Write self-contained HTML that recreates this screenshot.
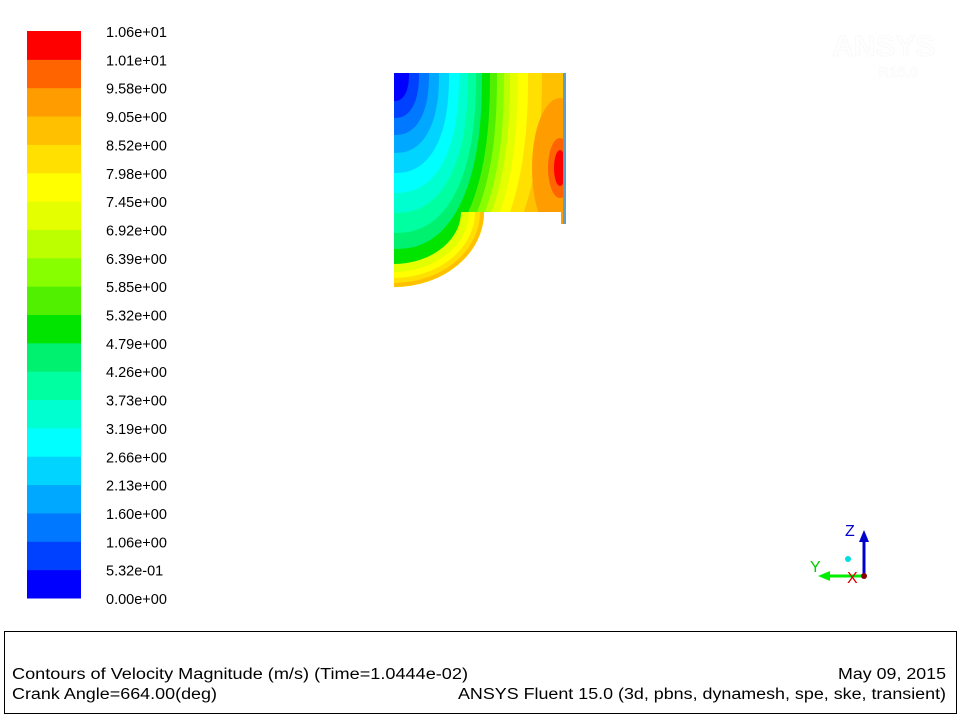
<!DOCTYPE html>
<html><head><meta charset="utf-8"><style>
html,body{margin:0;padding:0;background:#fff;}
svg{display:block;font-family:"Liberation Sans",Arial,sans-serif;}
</style></head><body>
<svg id="chart" width="960" height="720" viewBox="0 0 960 720">
  <text x="832" y="56" font-size="30" font-weight="bold" fill="#fefefe" stroke="#f6f6f6" stroke-width="0.5">ANSYS</text>
  <text x="878" y="77" font-size="15" font-weight="bold" fill="#fefefe" stroke="#f6f6f6" stroke-width="0.4">R15.0</text>
  <g id="colorbar"></g>
  <defs>
    <clipPath id="domainClip">
      <path d="M394,73 L566,73 L566,224 L561,224 L561,212 L484,212 A90,75 0 0 1 394,287 Z"/>
    </clipPath>
  </defs>
  <g id="contours" clip-path="url(#domainClip)"></g>
  <g>
    <line x1="864" y1="576" x2="864" y2="540" stroke="#0000cc" stroke-width="3"/>
    <polygon points="859,542 869,542 864,530" fill="#0000cc"/>
    <line x1="864" y1="576" x2="828" y2="576" stroke="#00ee00" stroke-width="3"/>
    <polygon points="830,571 830,581 818,576" fill="#00ee00"/>
    <circle cx="864" cy="576" r="3" fill="#880000"/>
    <circle cx="848" cy="559" r="3" fill="#00dddd"/>
    <text x="845" y="536" font-size="16" fill="#0000cc">Z</text>
    <text x="810" y="572" font-size="16" fill="#00cc00">Y</text>
    <text x="847" y="583" font-size="16" fill="#dd0000">X</text>
  </g>
  <rect x="4.5" y="631.5" width="952" height="82" fill="none" stroke="#000" stroke-width="1"/>
  <text x="12" y="679" font-size="15.5" textLength="456" lengthAdjust="spacingAndGlyphs">Contours of Velocity Magnitude (m/s)  (Time=1.0444e-02)</text>
  <text x="12" y="699" font-size="15.5" textLength="205" lengthAdjust="spacingAndGlyphs">Crank Angle=664.00(deg)</text>
  <text x="946" y="679" font-size="15.5" text-anchor="end" textLength="108" lengthAdjust="spacingAndGlyphs">May 09, 2015</text>
  <text x="946" y="699" font-size="15.5" text-anchor="end" textLength="488" lengthAdjust="spacingAndGlyphs">ANSYS Fluent 15.0 (3d, pbns, dynamesh, spe, ske, transient)</text>
</svg>
<script>
const levelLabels = ["0.00e+00","5.32e-01","1.06e+00","1.60e+00","2.13e+00","2.66e+00","3.19e+00","3.73e+00","4.26e+00","4.79e+00","5.32e+00","5.85e+00","6.39e+00","6.92e+00","7.45e+00","7.98e+00","8.52e+00","9.05e+00","9.58e+00","1.01e+01","1.06e+01"];
const bandColors = ["#0000ff","#0040ff","#0078ff","#00a8ff","#00d4ff","#00ffff","#00ffd0","#00ffa0","#00f070","#00e400","#50f000","#88ff00","#bbff00","#e4ff00","#ffff00","#ffe000","#ffc000","#ff9c00","#ff6400","#ff0000"];
// main contours around top-left corner: band index, rx, ry
const mainBands = [15,14,13,12,11,10,9,8,7,6,5,4,3,2,1,0];
const mainRx = [148,134,124,116,110,103,96,88,82,74,65,55,45,35,25,15];
const mainRy = [240,232,225,218,211,203,192,176,160,140,120,100,80,62,45,28];
// bands hugging the lower curved wall: band index, stroke width (half visible)
const arcBands = [13,14,15,16];
const arcWidths = [46,30,18,8];
// hot spot near right wall
const hotBands = [17,18,19];
const hotRx = [28,12,6];
const hotRy = [70,30,18];

const NS="http://www.w3.org/2000/svg";
const cb=document.getElementById('colorbar');
const barTop=31, barBot=598, nB=bandColors.length;
const bh=(barBot-barTop)/nB;
function yBand(i){return barBot-(i+1)*bh;}
bandColors.forEach((c,i)=>{
  const r=document.createElementNS(NS,'rect');
  r.setAttribute('x',27);r.setAttribute('y',yBand(i));r.setAttribute('width',54);r.setAttribute('height',bh+0.5);r.setAttribute('fill',c);
  
  
  cb.appendChild(r);
});
levelLabels.forEach((t,i)=>{
  const tx=document.createElementNS(NS,'text');
  tx.setAttribute('x',106);tx.setAttribute('y',barBot-i*bh+6);tx.setAttribute('font-size',14.5);tx.textContent=t;
  
  
  cb.appendChild(tx);
});
function superQuad(cx,cy,rx,ry,n){
  let d='M'+cx+','+cy;
  for(let k=0;k<=40;k++){
    const th=k/40*Math.PI/2;
    const x=cx+rx*Math.pow(Math.cos(th),2/n);
    const y=cy+ry*Math.pow(Math.sin(th),2/n);
    d+=' L'+x.toFixed(1)+','+y.toFixed(1);
  }
  return d+' Z';
}
const g=document.getElementById('contours');
const bg=document.createElementNS(NS,'rect');
bg.setAttribute('x',390);bg.setAttribute('y',70);bg.setAttribute('width',180);bg.setAttribute('height',220);bg.setAttribute('fill',bandColors[16]);


g.appendChild(bg);
mainBands.forEach((b,i)=>{
  const p=document.createElementNS(NS,'path');
  p.setAttribute('d',superQuad(394,73,mainRx[i],mainRy[i],2.4));
  p.setAttribute('fill',bandColors[b]);
  
  
  g.appendChild(p);
});
arcBands.forEach((b,i)=>{
  const p=document.createElementNS(NS,'path');
  p.setAttribute('d','M484,212 A90,75 0 0 1 394,287');
  p.setAttribute('fill','none');p.setAttribute('stroke',bandColors[b]);p.setAttribute('stroke-width',arcWidths[i]);p.setAttribute('stroke-linecap','butt');
  
  
  g.appendChild(p);
});
hotBands.forEach((b,i)=>{
  const e=document.createElementNS(NS,'ellipse');
  e.setAttribute('cx',560);e.setAttribute('cy',168);e.setAttribute('rx',hotRx[i]);e.setAttribute('ry',hotRy[i]);e.setAttribute('fill',bandColors[b]);
  
  
  g.appendChild(e);
});
const wall=document.createElementNS(NS,'rect');
wall.setAttribute('x',563);wall.setAttribute('y',73);wall.setAttribute('width',3);wall.setAttribute('height',151);wall.setAttribute('fill','#5aa0c8');


g.appendChild(wall);
</script>
</body></html>
